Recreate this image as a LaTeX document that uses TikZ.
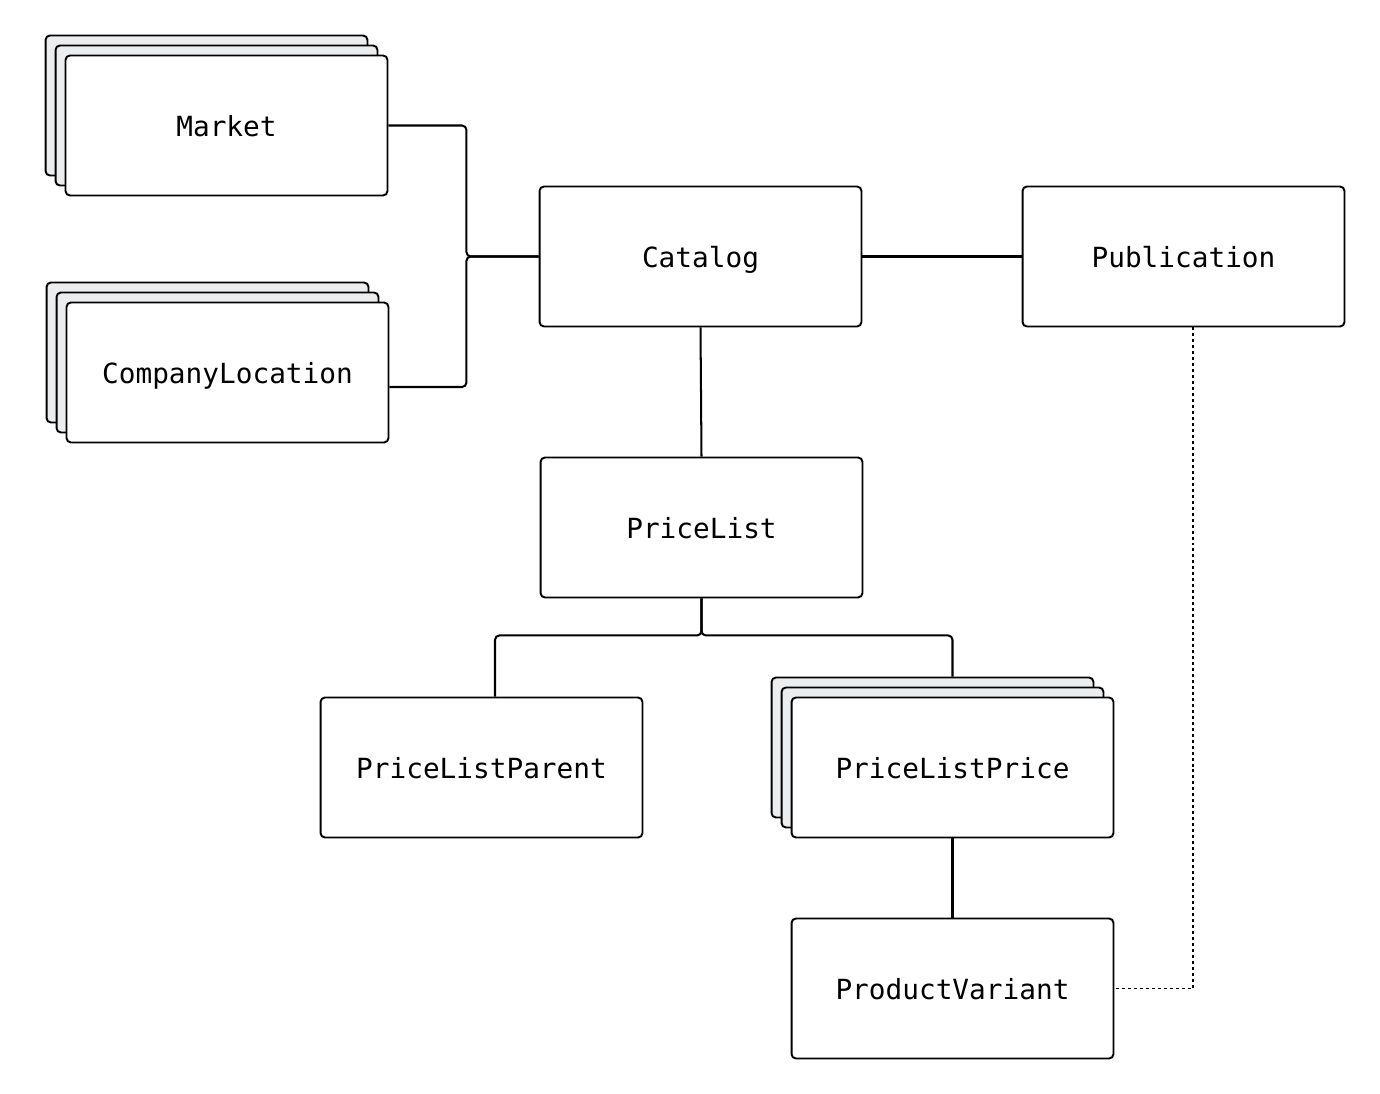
\documentclass[tikz,border=0pt]{standalone}
\usepackage{fontspec}
\setmonofont{DejaVu Sans Mono}
\usepackage{tikz}
\usetikzlibrary{positioning}
\usetikzlibrary{calc}
\usetikzlibrary{shadows}
\definecolor{stackgray}{RGB}{236,237,239}

\tikzset{
    entity/.style={draw, fill=white, line width=1.1pt, rounded corners=2.5pt,
        minimum width=6.44cm, minimum height=2.8cm, inner sep=0pt,
        text height=15pt, text depth=2.3pt,
        font=\ttfamily\fontsize{15.8}{18}\selectfont},
    stacked/.style={entity, double copy shadow={shadow xshift=-0.2cm, shadow yshift=0.2cm,
        opacity=1, fill=stackgray, draw=black, line width=1.1pt}},
    link/.style={line width=1.15pt, rounded corners=2.5pt},
    weaklink/.style={line width=0.85pt, dash pattern=on 1.7pt off 1.7pt}
}

\begin{document}
\begin{tikzpicture}[x=0.02cm, y=-0.02cm]
    \useasboundingbox (0,0) rectangle (1380,1094);

    % entities
    \node[stacked] (market) at (226.5, 125.5) {Market};
    \node[stacked] (companyLocation) at (227.5, 372.5) {CompanyLocation};
    \node[entity] (catalog) at (700.5, 256.5) {Catalog};
    \node[entity] (publication) at (1183.5, 256.5) {Publication};
    \node[entity] (priceList) at (701.5, 527.5) {PriceList};
    \node[entity] (priceListParent) at (481.5, 767.5) {PriceListParent};
    \node[stacked] (priceListPrice) at (952.5, 767.5) {PriceListPrice};
    \node[entity] (productVariant) at (952.5, 988.5) {ProductVariant};

    % relations
    \draw[link] (market.east) -- ++(78,0) |- (catalog.west);
    \draw[link] ([yshift=-0.29cm]companyLocation.east) -- ++(77,0) |- (catalog.west);
    \draw[link] (catalog.east) -- (publication.west);
    \draw[link] (catalog.south) -- (priceList.north);
    \draw[link] (priceList.south) -- ++(0,37) -| ([xshift=0.27cm]priceListParent.north);
    \draw[link] (priceList.south) -- ++(0,37) -| ([yshift=0.4cm]priceListPrice.north);
    \draw[link] (priceListPrice.south) -- (productVariant.north);
    \draw[weaklink] ([xshift=0.19cm]publication.south) |- (productVariant.east);
\end{tikzpicture}
\end{document}
